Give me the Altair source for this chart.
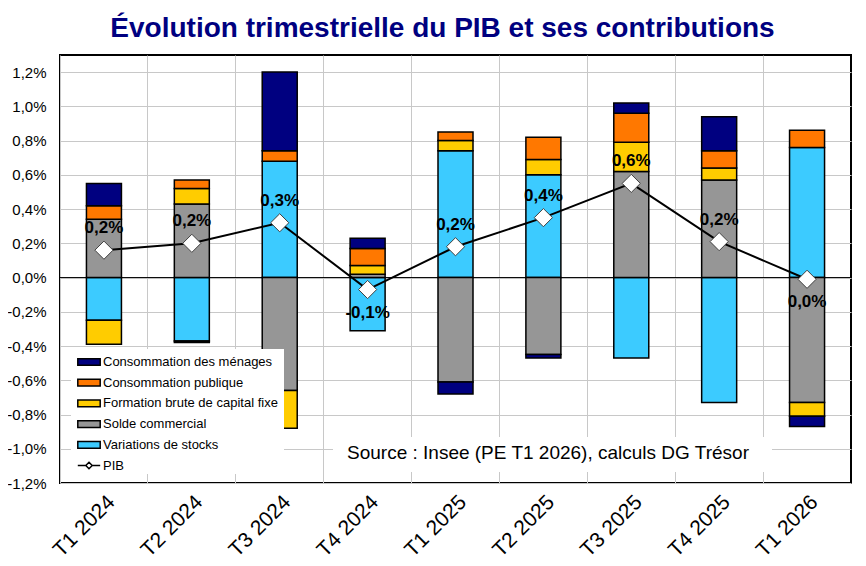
import pandas as pd
import altair as alt

# Valeurs (points de %)
quarters = ["T1 2024", "T2 2024", "T3 2024", "T4 2024", "T1 2025",
            "T2 2025", "T3 2025", "T4 2025", "T1 2026"]
stocks = [-0.25, -0.37, 0.68, -0.31, 0.74, 0.60, -0.47, -0.73, 0.76]
solde = [0.34, 0.43, -0.66, 0.02, -0.61, -0.45, 0.62, 0.57, -0.73]
fbcf = [-0.14, 0.09, -0.22, 0.05, 0.06, 0.09, 0.17, 0.07, -0.08]
conso_pub = [0.08, 0.05, 0.06, 0.10, 0.05, 0.13, 0.17, 0.10, 0.10]
conso_men = [0.13, -0.01, 0.46, 0.06, -0.07, -0.02, 0.06, 0.20, -0.06]
pib = [0.16, 0.20, 0.32, -0.07, 0.18, 0.35, 0.55, 0.21, -0.01]
pib_labels = ["0,2%", "0,2%", "0,3%", "-0,1%", "0,2%", "0,4%", "0,6%", "0,2%", "0,0%"]

series = ["Consommation des ménages", "Consommation publique",
          "Formation brute de capital fixe", "Solde commercial",
          "Variations de stocks"]
colors = ["#000080", "#FF7800", "#FFCC00", "#969696", "#3CCBFF"]
y_ticks = [-1.2, -1.0, -0.8, -0.6, -0.4, -0.2, 0.0, 0.2, 0.4, 0.6, 0.8, 1.0, 1.2]
source = "Source : Insee (PE T1 2026), calculs DG Trésor"

FONT = "Liberation Sans"
RECT_PATH = "M-1.4,-0.42L1.4,-0.42L1.4,0.42L-1.4,0.42Z"
PIB_PATH = "M-1.4,0L-0.4,0M0.4,0L1.4,0M0,-0.4L0.4,0L0,0.4L-0.4,0Z"

# stacking order: first one sits on the zero line
stack_order = [("Variations de stocks", stocks), ("Solde commercial", solde),
               ("Formation brute de capital fixe", fbcf),
               ("Consommation publique", conso_pub),
               ("Consommation des ménages", conso_men)]
rows = []
for rank, (name, vals) in enumerate(stack_order):
    for q, v in zip(quarters, vals):
        rows.append({"trimestre": q, "serie": name, "valeur": v, "rang": rank})
bars_df = pd.DataFrame(rows)
pib_df = pd.DataFrame({"trimestre": quarters, "pib": pib, "label": pib_labels})

x_axis = alt.Axis(title=None, labelAngle=-45, labelFontSize=21,
                  labelFont=FONT, labelColor="black", bandPosition=0,
                  labelPadding=8, ticks=False, domain=False, grid=True,
                  gridColor="#c8c8c8")
y_axis = alt.Axis(title=None, values=y_ticks, ticks=False, domain=False,
                  labelOverlap=False, labelFontSize=15, labelFont=FONT,
                  labelColor="black", labelPadding=14, gridColor="#c8c8c8",
                  labelExpr="replace(replace(format(datum.value, '.1f'), '.', ','), '\u2212', '-') + '%'")
x_scale = alt.Scale(paddingInner=0, paddingOuter=0)
y_scale = alt.Scale(domain=[-1.2, 1.3], nice=False, zero=False)


def xq():
    return alt.X("trimestre:N", sort=quarters, scale=x_scale, axis=x_axis)


def yq(field):
    return alt.Y(field, scale=y_scale, axis=y_axis)


legend_common = dict(title=None, orient="none", legendX=11, padding=4,
                     symbolOffset=5, symbolSize=256, labelOffset=5,
                     rowPadding=4.7, labelFont=FONT, labelFontSize=13,
                     labelColor="black", labelLimit=400, symbolStrokeColor="black",
                     symbolStrokeWidth=1.5, symbolOpacity=1)

zero_line = alt.Chart(pd.DataFrame({"y": [0]})).mark_rule(color="black", strokeWidth=1).encode(
    y=yq("y:Q")
)

bars = alt.Chart(bars_df).mark_bar(size=35, stroke="black", strokeWidth=1.5).encode(
    x=xq(),
    y=alt.Y("valeur:Q", stack="zero", scale=y_scale, axis=y_axis),
    color=alt.Color("serie:N",
                    scale=alt.Scale(domain=series, range=colors),
                    legend=alt.Legend(legendY=294, symbolType=RECT_PATH, **legend_common)),
    order=alt.Order("rang:Q")
)

one = pd.DataFrame({"t": [source]})
# white panels behind the legend and the source note
legend_box = alt.Chart(one).mark_rect(fill="white").encode(
    x=alt.value(11), x2=alt.value(224), y=alt.value(294), y2=alt.value(419)
)
source_box = alt.Chart(one).mark_rect(fill="white").encode(
    x=alt.value(273), x2=alt.value(712), y=alt.value(382), y2=alt.value(417)
)
source_text = alt.Chart(one).mark_text(align="left", baseline="middle", fontSize=19,
                                       font=FONT, color="black").encode(
    x=alt.value(287), y=alt.value(398), text="t:N"
)

line = alt.Chart(pib_df).mark_line(color="black", strokeWidth=2).encode(
    x=xq(), y=yq("pib:Q")
)
points = alt.Chart(pib_df).mark_point(shape="diamond", filled=True, fill="white",
                                      stroke="#404040", strokeWidth=1, size=330,
                                      opacity=1).encode(
    x=xq(), y=yq("pib:Q")
)
# legend entry for the PIB series (no marks drawn)
pib_legend = alt.Chart(pib_df).transform_calculate(nom="'PIB'").transform_filter(
    "false"
).mark_point(filled=False, color="black", strokeWidth=1.5, opacity=1).encode(
    x=xq(), y=yq("pib:Q"),
    shape=alt.Shape("nom:N", scale=alt.Scale(domain=["PIB"], range=[PIB_PATH]),
                    legend=alt.Legend(legendY=397.5, **legend_common))
)
labels_up = alt.Chart(pib_df).transform_filter("datum.pib >= 0").mark_text(
    dy=-22, fontSize=17, fontWeight="bold", font=FONT, color="black"
).encode(x=xq(), y=yq("pib:Q"), text="label:N")
labels_down = alt.Chart(pib_df).transform_filter("datum.pib < 0").mark_text(
    dy=23, fontSize=17, fontWeight="bold", font=FONT, color="black"
).encode(x=xq(), y=yq("pib:Q"), text="label:N")

chart = alt.layer(
    zero_line, bars, legend_box, source_box, source_text, line, points,
    pib_legend, labels_up, labels_down
).properties(
    width=791,
    height=428,
    autosize=alt.AutoSizeParams(type="none"),
    padding={"left": 52, "top": 47, "right": 7, "bottom": 82},
    title=alt.TitleParams("Évolution trimestrielle du PIB et ses contributions",
                          fontSize=28, font=FONT, fontWeight="bold", color="#000080",
                          anchor="middle", offset=12, dx=-13)
).configure_view(
    stroke="black", strokeWidth=2
)

chart.save("out.html", embed_options={"renderer": "svg", "actions": False})
